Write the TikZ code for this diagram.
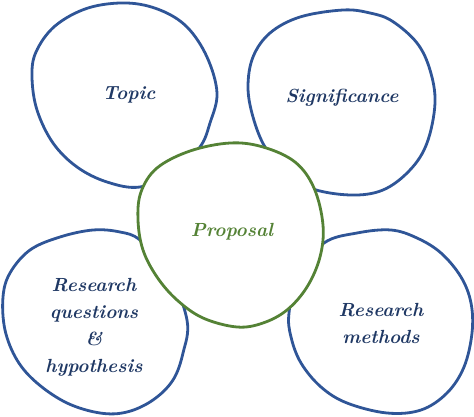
\documentclass[tikz,border=0pt]{standalone}
\usetikzlibrary{positioning}
\definecolor{blobblue}{HTML}{2F5597}
\definecolor{blobgreen}{HTML}{548235}
\definecolor{textnavy}{HTML}{1F3864}
\tikzset{blob/.style={draw=blobblue,fill=white,line width=2.8pt}}
\tikzset{core/.style={draw=blobgreen,fill=white,line width=2.8pt}}
\tikzset{idea/.style={text=textnavy,font=\fontsize{19}{27}\selectfont\bfseries\itshape,align=center}}
\tikzset{coreidea/.style={idea,text=blobgreen}}

\begin{document}
\begin{tikzpicture}[x=1pt,y=-1pt]
\useasboundingbox (0,0) rectangle (474,417);
\begin{scope}[smooth cycle,tension=0.6]
	\draw[blob] plot coordinates {(127,3) (160,10) (187,27) (207,57) (217,93) (210,123) (200,147) (175,172) (140,187) (107,182) (77,167) (53,143) (37,110) (32,77) (36,52) (55,26) (88,8)};
	\draw[blob] plot coordinates {(343,10) (370,13) (392,21) (417,43) (430,70) (435,103) (427,143) (410,170) (383,190) (350,195) (310,188) (285,170) (265,147) (253,117) (248,87) (253,57) (270,33) (300,17)};
	\draw[blob] plot coordinates {(93,230) (120,232) (140,240) (168,270) (187,320) (183,353) (173,380) (153,400) (127,412) (100,413) (67,403) (37,383) (17,360) (5,330) (3,297) (10,273) (30,250) (60,237)};
	\draw[blob] plot coordinates {(391,230) (417,238) (441,253) (461,277) (471,303) (472,333) (464,367) (447,393) (421,410) (387,413) (347,403) (321,387) (301,363) (291,337) (289,313) (298,275) (324,243) (357,233)};
	\draw[core] plot coordinates {(230,143) (263,147) (295,162) (314,188) (323,225) (320,257) (307,287) (287,310) (263,323) (237,327) (203,318) (177,300) (157,277) (143,250) (138,220) (141,192) (157,168) (190,151)};
\end{scope}
\node (topic) [idea] at (129,95) {Topic};
\node (signif) [idea] at (342,98) {Significance};
\node (proposal) [coreidea] at (232,232) {Proposal};
\node (questions) [idea] at (94,327) {Research\\questions\\\&\\hypothesis};
\node (methods) [idea] at (381,323) {Research\\methods};
\end{tikzpicture}
\end{document}
